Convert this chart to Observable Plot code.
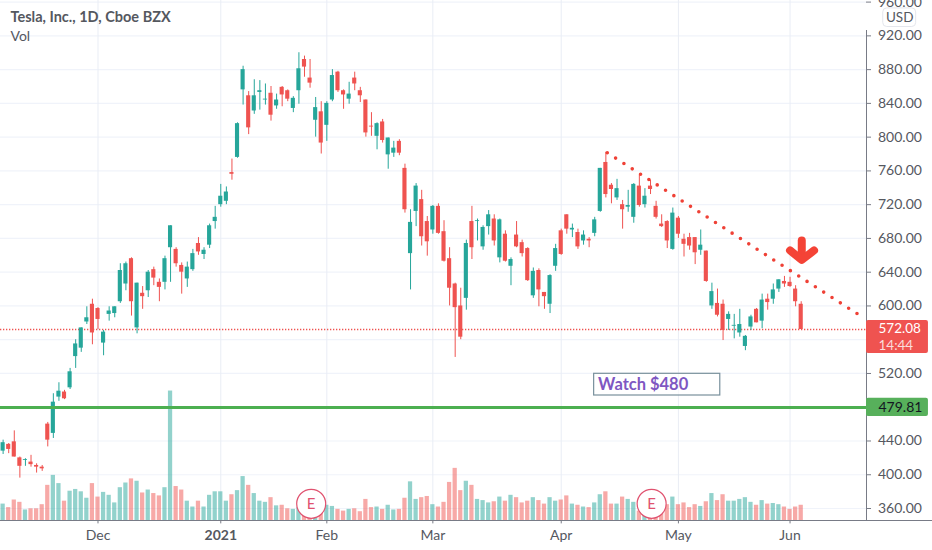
<!DOCTYPE html>
<html><head><meta charset="utf-8">
<script src="https://cdn.jsdelivr.net/npm/d3@7"></script>
<script src="https://cdn.jsdelivr.net/npm/@observablehq/plot@0.6"></script>
<style>html,body{margin:0;padding:0;background:#fff}svg{display:block}</style>
</head><body><div id="chart"></div>
<script>
const opens=[428,436,439,420,417,415,411,409,460,449,492,498,503,540,550,581,602,597,556,590,591,605,626,656,574,615,618,643,628,628,669,667,648,632,643,674,661,672,700,720,724,758,776,856,849,831,853,844,852,837,859,855,834,855,892,870,820,830,814,844,877,855,845,870,855,844,813,801,818,779,781,795,763,662,712,726,700,690,718,688,656,626,600,609,700,700,670,694,703,657,685,647,684,675,668,612,642,616,602,647,689,708,690,687,677,679,686,712,770,743,728,720,717,705,742,720,742,718,697,700,667,704,679,681,681,666,665,600,603,602,584,576,568,552,575,596,582,608,608,620,629,628,620,602];
const highs=[441,437,452,421,419,423,413,411,462,496,509,500,526,560,574,599,608,598,571,599,599,650,652,657,627,623,642,646,632,659,695,669,651,652,667,681,669,697,718,744,741,774,817,884,854,868,867,863,860,851,860,856,848,900,896,892,847,842,842,880,878,856,865,877,859,844,829,817,821,799,795,797,768,714,745,737,706,719,721,701,669,627,621,678,718,703,695,713,708,703,689,657,700,678,669,645,644,616,637,673,691,708,697,691,689,681,705,763,782,745,750,725,737,745,755,739,749,724,708,701,716,706,685,686,681,690,665,627,620,607,593,590,596,565,589,597,614,614,626,631,635,634,624,605];
const lows=[424,425,421,396,410,409,402,404,433,443,487,489,501,526,545,578,554,572,541,582,586,603,618,588,567,596,610,624,605,619,628,646,614,622,641,660,655,668,691,717,720,749,775,838,803,827,832,838,819,833,836,842,829,839,871,858,800,780,795,842,853,833,839,855,841,800,801,785,793,762,776,778,710,619,694,671,659,685,685,652,600,539,560,595,655,677,666,684,671,651,652,624,669,658,629,609,599,596,591,641,660,685,681,667,672,669,682,711,728,721,725,691,711,698,717,716,732,703,693,668,666,680,658,666,649,660,628,596,587,559,571,561,563,547,571,580,573,595,602,616,622,622,599,572];
const closes=[438,430,421,410,418,412,409,407,441,486,499,490,522,555,574,586,568,584,569,594,599,642,650,605,627,611,640,633,622,656,695,650,640,646,662,664,666,695,705,730,735,756,816,880,811,849,855,845,826,844,850,845,846,881,883,864,835,793,840,873,855,850,851,863,849,805,812,816,796,799,787,781,714,699,742,682,676,718,686,653,621,598,563,674,669,701,693,708,677,702,653,655,670,662,630,641,619,611,636,668,661,691,692,670,684,677,702,763,732,738,739,714,719,744,719,730,738,705,694,677,710,685,673,671,663,672,629,617,589,571,590,577,578,564,587,580,607,604,619,631,626,623,605,572.08];
const volumes=[28,22,35,31,18,20,20,27,60,77,63,33,50,53,49,38,63,40,48,43,30,56,64,71,67,47,52,46,42,56,221,58,52,33,23,33,23,43,49,49,33,44,51,75,60,46,33,31,39,25,26,20,19,22,24,22,20,20,26,24,19,16,19,20,15,36,22,23,19,26,18,19,38,66,36,39,41,27,23,31,65,89,51,67,60,36,34,30,32,40,33,43,39,30,33,39,34,28,39,33,35,42,28,26,23,22,30,44,49,28,28,40,36,31,16,14,14,14,14,27,40,27,30,22,27,24,32,46,34,44,33,33,36,39,31,26,34,28,29,27,23,19,23,26];
const monthTicks=[17,39,58,77,100,121,141];
const monthLabels=["Dec","2021","Feb","Mar","Apr","May","Jun"];
const priceTicks=[360,400,440,480,520,560,600,640,680,720,760,800,840,880,920,960];
const lastPrice=572.08, supportPrice=479.81;
const trendIdx=[108.25,153.3], trendPrice=[781.5,589.7];
const earningsIdx=[55.2,116.2];
const UP="#26a69a", DOWN="#ef5350";

const idx=opens.map((_,i)=>i);
const isUp=i=>closes[i]>=opens[i];
const volBase=345.8, volK=0.694;
const xMin=-0.47, xAxis=154.7, xEnd=166.55;
const font="Lato,sans-serif";
const textCol="#55585f";

const chart=Plot.plot({
  width:932,height:550,marginTop:0,marginBottom:30,marginLeft:0,marginRight:66,
  style:{background:"#fff",fontFamily:font,overflow:"visible"},
  x:{type:"linear",domain:[xMin,xAxis],range:[0,866],axis:null},
  y:{type:"linear",domain:[volBase,961.9],range:[520,0],axis:null},
  marks:[
    Plot.ruleY(priceTicks,{x1:xMin,x2:xAxis,stroke:"#f0f3fa",strokeWidth:1.2}),
    Plot.ruleX(monthTicks,{y1:volBase,y2:961.9,stroke:"#e9edf5",strokeWidth:1}),
    Plot.rect(idx,{x1:i=>i-0.38,x2:i=>i+0.38,y1:volBase,y2:i=>volBase+volumes[i]*volK,
      fill:i=>isUp(i)?UP:DOWN,fillOpacity:0.5}),
    Plot.ruleY([lastPrice],{x1:()=>xMin,x2:()=>xAxis,stroke:()=>"#ef5350",strokeWidth:1.3,strokeDasharray:"1.3 1.7"}),
    Plot.ruleX(idx,{x:i=>i,y1:i=>lows[i],y2:i=>highs[i],stroke:i=>isUp(i)?UP:DOWN,strokeWidth:1}),
    Plot.rect(idx,{x1:i=>i-0.37,x2:i=>i+0.37,
      y1:i=>Math.min(opens[i],closes[i]),y2:i=>Math.max(opens[i],closes[i]),
      fill:i=>isUp(i)?UP:DOWN}),
    Plot.ruleY([supportPrice],{x1:xMin,x2:xAxis,stroke:"#4caf50",strokeWidth:3}),
    Plot.line(trendIdx.map((x,i)=>({x,y:trendPrice[i]})),{x:"x",y:"y",stroke:"#ef4136",strokeWidth:3.6,strokeLinecap:"round",strokeDasharray:"0 9.9"}),
    Plot.line([{x:143.1,y:677.6},{x:143.1,y:657.5}],{x:"x",y:"y",stroke:"#f44336",strokeWidth:8,strokeLinecap:"round"}),
    Plot.line([{x:141,y:665.75},{x:143.1,y:654.5},{x:145.3,y:665.75}],{x:"x",y:"y",stroke:"#f44336",strokeWidth:8,strokeLinecap:"round",strokeLinejoin:"round"}),
    Plot.dot(earningsIdx,{x:d=>d,y:()=>365.6,r:14.5,fill:"#fff",stroke:"#e0526f",strokeWidth:1.2}),
    Plot.text(earningsIdx,{x:d=>d,y:()=>365.6,text:()=>"E",fill:"#e0526f",fontSize:15}),
    Plot.rect([0],{x1:()=>105.9,x2:()=>128.5,y1:()=>493.9,y2:()=>519.6,fill:"#fff",fillOpacity:0.6,stroke:"#78909c",strokeWidth:1.2}),
    Plot.text(["Watch $480"],{x:()=>106.6,y:()=>506.7,textAnchor:"start",fill:"#7e57c2",fontSize:16.5,fontWeight:"700",letterSpacing:"0.3px"}),
    Plot.ruleX([xAxis],{y1:volBase,y2:961.9,insetBottom:-30,stroke:"#787b86",strokeWidth:1}),
    Plot.ruleY([volBase],{x1:xMin,x2:xEnd,stroke:"#787b86",strokeWidth:1}),
    Plot.ruleY(priceTicks,{x1:xAxis,x2:xAxis+0.9,stroke:"#787b86",strokeWidth:1}),
    Plot.text(priceTicks.filter(d=>d!==480&&d!==560),{x:()=>xAxis,y:d=>d,dx:11.5,textAnchor:"start",text:d=>d.toFixed(2),fill:textCol,fontSize:14}),
    Plot.ruleX(monthTicks,{y1:volBase,y2:volBase-4,stroke:"#787b86",strokeWidth:1}),
    Plot.text(monthLabels.filter(d=>d!=="2021"),{x:d=>monthTicks[monthLabels.indexOf(d)],y:()=>volBase-18,text:d=>d,fill:textCol,fontSize:14}),
    Plot.text(["2021"],{x:()=>monthTicks[1],y:()=>volBase-18,fill:textCol,fontSize:14,fontWeight:"bold"}),
    Plot.rect([0],{x1:()=>xAxis,x2:()=>165.8,y1:()=>543.7,y2:()=>582.8,fill:DOWN,rx:2}),
    Plot.text([lastPrice.toFixed(2)],{x:()=>xAxis,y:()=>lastPrice,dx:12,dy:-0.5,textAnchor:"start",fill:"#fff",fontSize:13.5,letterSpacing:"0.2px"}),
    Plot.text(["14:44"],{x:()=>xAxis,y:()=>554.4,dx:12,dy:1,textAnchor:"start",fill:"#fbdcdb",fontSize:13.5,letterSpacing:"0.2px"}),
    Plot.rect([0],{x1:()=>xAxis,x2:()=>165.8,y1:()=>469,y2:()=>490.7,fill:"#57b05b",rx:2}),
    Plot.text([supportPrice.toFixed(2)],{x:()=>xAxis,y:()=>supportPrice,dx:12,textAnchor:"start",fill:"#131722",fontSize:14}),
    Plot.rect([0],{x1:()=>157.7,x2:()=>163.6,y1:()=>930.5,y2:()=>952.5,fill:"#fff",stroke:"#e4e6ec",rx:4}),
    Plot.text(["USD"],{x:()=>160.65,y:()=>941.5,fill:textCol,fontSize:13.5}),
    Plot.text(["Tesla, Inc., 1D, Cboe BZX"],{x:()=>xMin,y:()=>942,dx:10,textAnchor:"start",fill:textCol,fontSize:14.5,fontWeight:"bold",letterSpacing:"0.25px"}),
    Plot.text(["Vol"],{x:()=>xMin,y:()=>919.3,dx:10,textAnchor:"start",fill:textCol,fontSize:14})
  ]
});
document.getElementById("chart").append(chart);
</script></body></html>
